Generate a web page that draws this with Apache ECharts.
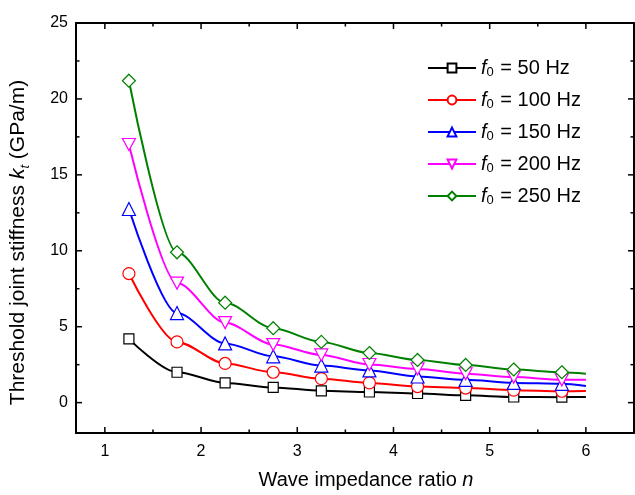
<!DOCTYPE html>
<html>
<head>
<meta charset="utf-8">
<script src="https://cdn.jsdelivr.net/npm/echarts@6/dist/echarts.min.js"></script>
<style>html,body{margin:0;padding:0;background:#fff}#c{width:635px;height:495px}</style>
</head>
<body>
<div id="c"></div>
<script>
// Data
const nValues = [1.25, 1.75, 2.25, 2.75, 3.25, 3.75, 4.25, 4.75, 5.25, 5.75, 6.0];
const freqLabels = ['50', '100', '150', '200', '250'];
const k50  = [4.2, 2.0, 1.3, 1.0, 0.78, 0.7, 0.6, 0.48, 0.37, 0.36, 0.37];
const k100 = [8.5, 4.0, 2.58, 2.0, 1.58, 1.3, 1.06, 0.96, 0.82, 0.75, 0.76];
const k150 = [12.75, 5.9, 3.9, 3.05, 2.44, 2.12, 1.72, 1.5, 1.3, 1.24, 1.1];
const k200 = [17.0, 7.87, 5.27, 3.82, 3.14, 2.51, 2.22, 1.9, 1.68, 1.5, 1.5];
const k250 = [21.2, 9.9, 6.58, 4.9, 4.0, 3.27, 2.81, 2.48, 2.18, 2.0, 1.9];
const xRange = [0.7, 6.5];
const yRange = [-2, 25];
const xMajorTicks = [1, 2, 3, 4, 5, 6];
const xMinorTicks = [1.5, 2.5, 3.5, 4.5, 5.5];
const yMajorTicks = [0, 5, 10, 15, 20, 25];
const yMinorTicks = [2.5, 7.5, 12.5, 17.5, 22.5];

const allK = [k50, k100, k150, k200, k250];
const colors = ['#000000', '#ff0000', '#0000ff', '#ff00ff', '#008000'];
const symbols = ['rect', 'circle', 'triangle', 'path://M0,0 L10,0 L5,9 Z', 'diamond'];
const symSizes = [10, 12, 13, [13, 12], 13];

const FONT = 'Liberation Sans, Arial, sans-serif';

const series = allK.map((ks, si) => ({
  name: 'f' + si,
  type: 'line',
  smooth: 0.3,
  smoothMonotone: 'x',
  color: colors[si],
  symbol: symbols[si],
  symbolSize: symSizes[si],
  showAllSymbol: true,
  lineStyle: { width: 2, color: colors[si] },
  itemStyle: { color: '#ffffff', borderColor: colors[si], borderWidth: 1.2 },
  z: 2 + si,
  data: nValues.map((n, i) => {
    const d = { value: [n, ks[i]] };
    if (i === nValues.length - 1) d.symbol = 'none';
    return d;
  })
}));

const chart = echarts.init(document.getElementById('c'), null, { renderer: 'canvas' });

function frameAxis(pos, range, labels) {
  return {
    type: 'value', min: range[0], max: range[1], position: pos,
    axisLine: { show: true, onZero: false, lineStyle: { color: '#000', width: 2 } },
    axisTick: { show: false },
    minorTick: { show: false },
    splitLine: { show: false },
    axisLabel: labels || { show: false }
  };
}

const xMain = frameAxis('bottom', xRange, {
  show: true, color: '#000', fontFamily: FONT, fontSize: 16, margin: 11,
  showMinLabel: false, showMaxLabel: false
});
xMain.name = '{a|Wave impedance ratio }{b|n}';
xMain.nameLocation = 'middle';
xMain.nameGap = 37;
xMain.nameTextStyle = {
  padding: [0, 0, 0, 22],
  rich: {
    a: { fontSize: 20, fontFamily: FONT, color: '#000' },
    b: { fontSize: 20, fontFamily: FONT, color: '#000', fontStyle: 'italic' }
  }
};

const yMain = frameAxis('left', yRange, {
  show: true, color: '#000', fontFamily: FONT, fontSize: 16, margin: 8,
  showMinLabel: false, showMaxLabel: true
});
yMain.name = '{a|Threshold joint stiffness }{b|k}{c|t}{a| (GPa/m)}';
yMain.nameLocation = 'middle';
yMain.nameRotate = 90;
yMain.nameGap = 44;
yMain.nameTextStyle = {
  padding: [0, 29, 0, 0],
  rich: {
    a: { fontSize: 21, fontFamily: FONT, color: '#000' },
    b: { fontSize: 21, fontFamily: FONT, color: '#000', fontStyle: 'italic' },
    c: { fontSize: 13, fontFamily: FONT, color: '#000', fontStyle: 'italic', verticalAlign: 'bottom', padding: [14, 0, 0, 0] }
  }
};

chart.setOption({
  animation: false,
  backgroundColor: '#ffffff',
  grid: { left: 76, right: 1, top: 23, bottom: 58, containLabel: false },
  legend: {
    orient: 'vertical',
    left: 422,
    top: 47,
    itemWidth: 48,
    itemHeight: 11,
    itemGap: 5,
    data: series.map(s => s.name),
    formatter: name => {
      const i = parseInt(name.slice(1), 10);
      return '{i|f}{s|0}{t| = ' + freqLabels[i] + ' Hz}';
    },
    textStyle: {
      color: '#000',
      fontFamily: FONT,
      fontSize: 20,
      rich: {
        i: { fontStyle: 'italic', fontSize: 20, fontFamily: FONT, lineHeight: 22, color: '#000' },
        s: { fontSize: 13, fontFamily: FONT, verticalAlign: 'bottom', padding: [14, 1, 0, 0], lineHeight: 22, color: '#000' },
        t: { fontSize: 20, fontFamily: FONT, lineHeight: 22, color: '#000' }
      }
    }
  },
  xAxis: [xMain, frameAxis('top', xRange)],
  yAxis: [yMain, frameAxis('right', yRange)],
  series: series
});

// Tick marks on all four sides, positioned through the axes' own scales
const px = v => chart.convertToPixel({ xAxisIndex: 0 }, v);
const py = v => chart.convertToPixel({ yAxisIndex: 0 }, v);
const L = px(xRange[0]), R = px(xRange[1]), B = py(yRange[0]), T = py(yRange[1]);
const tickStyle = { stroke: '#000', lineWidth: 1.5 };
const ticks = [];
function addX(vals, len) {
  vals.forEach(v => {
    const x = px(v);
    ticks.push({ type: 'line', silent: true, z: 50, shape: { x1: x, y1: B, x2: x, y2: B - len }, style: tickStyle });
    ticks.push({ type: 'line', silent: true, z: 50, shape: { x1: x, y1: T, x2: x, y2: T + len }, style: tickStyle });
  });
}
function addY(vals, len) {
  vals.forEach(v => {
    const y = py(v);
    ticks.push({ type: 'line', silent: true, z: 50, shape: { x1: L, y1: y, x2: L + len, y2: y }, style: tickStyle });
    ticks.push({ type: 'line', silent: true, z: 50, shape: { x1: R, y1: y, x2: R - len, y2: y }, style: tickStyle });
  });
}
addX(xMajorTicks, 6);
addX(xMinorTicks, 3.5);
addY(yMajorTicks, 6);
addY(yMinorTicks, 3.5);
chart.setOption({ graphic: { elements: ticks } });
</script>
</body>
</html>
